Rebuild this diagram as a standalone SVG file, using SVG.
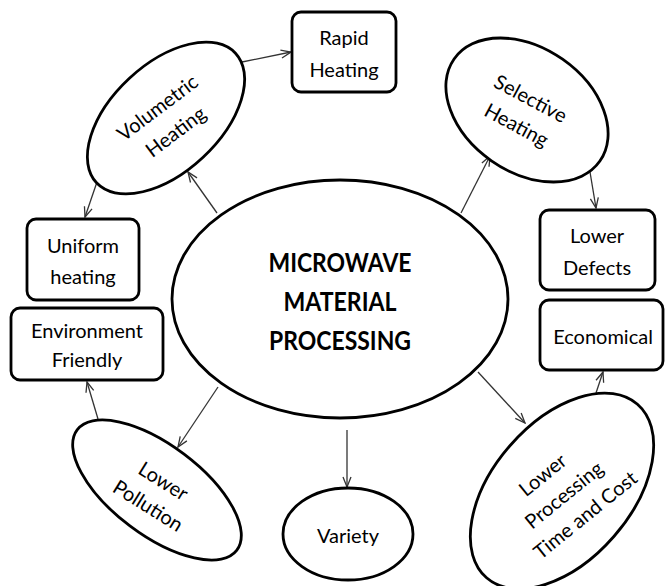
<svg xmlns="http://www.w3.org/2000/svg" width="666" height="586" viewBox="0 0 666 586">
<defs>
<style>
.node{fill:#fff;stroke:#000;stroke-width:2.8}
.t{font-family:Lato,"Liberation Sans",sans-serif;font-size:20px;fill:#000;text-anchor:middle}
.tb{font-family:Lato,"Liberation Sans",sans-serif;font-size:26px;font-weight:bold;fill:#000;text-anchor:middle}
.edge{stroke:#333;stroke-width:1.3;fill:none;marker-end:url(#arr)}
</style>
<marker id="arr" markerUnits="userSpaceOnUse" markerWidth="12" markerHeight="10" refX="11" refY="5" orient="auto">
<path d="M1,1 L11,5 L1,9" fill="none" stroke="#333" stroke-width="1.3"/>
</marker>
</defs>
<rect width="666" height="586" fill="#fff"/>
<g id="connectors">
<line class="edge" x1="242" y1="62" x2="291" y2="52"/>
<line class="edge" x1="217" y1="213" x2="188" y2="172"/>
<line class="edge" x1="97" y1="182" x2="85" y2="217"/>
<line class="edge" x1="461" y1="213" x2="490" y2="156"/>
<line class="edge" x1="590" y1="172" x2="596" y2="208"/>
<line class="edge" x1="596" y1="393" x2="603" y2="372"/>
<line class="edge" x1="478" y1="372" x2="525" y2="423"/>
<line class="edge" x1="347" y1="430" x2="347" y2="487"/>
<line class="edge" x1="218" y1="387" x2="178" y2="447"/>
<line class="edge" x1="98" y1="419" x2="87" y2="382"/>
</g>
<g id="center">
<ellipse class="node" cx="340" cy="299" rx="168" ry="119"/>
<text class="tb" x="340" y="272" textLength="143" lengthAdjust="spacingAndGlyphs">MICROWAVE</text>
<text class="tb" x="340" y="311" textLength="113" lengthAdjust="spacingAndGlyphs">MATERIAL</text>
<text class="tb" x="340" y="350" textLength="142" lengthAdjust="spacingAndGlyphs">PROCESSING</text>
</g>
<g id="volumetric">
<ellipse class="node" cx="166" cy="118" rx="95" ry="54" transform="rotate(-43 166 118)"/>
<g transform="translate(166 119) rotate(-37)">
<text class="t" x="0" y="-7">Volumetric</text>
<text class="t" x="0" y="23">Heating</text>
</g>
</g>
<g id="rapid">
<rect class="node" x="292" y="12" width="104" height="80" rx="9"/>
<text class="t" x="344" y="45">Rapid</text>
<text class="t" x="344" y="77">Heating</text>
</g>
<g id="selective">
<ellipse class="node" cx="527" cy="110" rx="89" ry="62" transform="rotate(35 527 110)"/>
<g transform="translate(524 111) rotate(28)">
<text class="t" x="0" y="-7">Selective</text>
<text class="t" x="0" y="23">Heating</text>
</g>
</g>
<g id="uniform">
<rect class="node" x="27" y="219" width="112" height="81" rx="9"/>
<text class="t" x="83" y="253">Uniform</text>
<text class="t" x="83" y="284">heating</text>
</g>
<g id="environment">
<rect class="node" x="11" y="308" width="152" height="72" rx="9"/>
<text class="t" x="87" y="338">Environment</text>
<text class="t" x="87" y="367">Friendly</text>
</g>
<g id="defects">
<rect class="node" x="540" y="210" width="115" height="80" rx="9"/>
<text class="t" x="597" y="243">Lower</text>
<text class="t" x="597" y="275">Defects</text>
</g>
<g id="economical">
<rect class="node" x="540" y="300" width="123" height="70" rx="9"/>
<text class="t" x="603" y="344">Economical</text>
</g>
<g id="pollution">
<ellipse class="node" cx="157" cy="490" rx="100" ry="45" transform="rotate(37 157 490)"/>
<g transform="translate(156 493) rotate(32)">
<text class="t" x="0" y="-7">Lower</text>
<text class="t" x="0" y="22">Pollution</text>
</g>
</g>
<g id="variety">
<ellipse class="node" cx="348" cy="534" rx="65" ry="46"/>
<text class="t" x="348" y="543">Variety</text>
</g>
<g id="processing">
<ellipse class="node" cx="562" cy="491" rx="115" ry="69" transform="rotate(-49 562 491)"/>
<g transform="translate(564 495) rotate(-39)">
<text class="t" x="-4" y="-22">Lower</text>
<text class="t" x="0" y="7">Processing</text>
<text class="t" x="4" y="36">Time and Cost</text>
</g>
</g>
</svg>
